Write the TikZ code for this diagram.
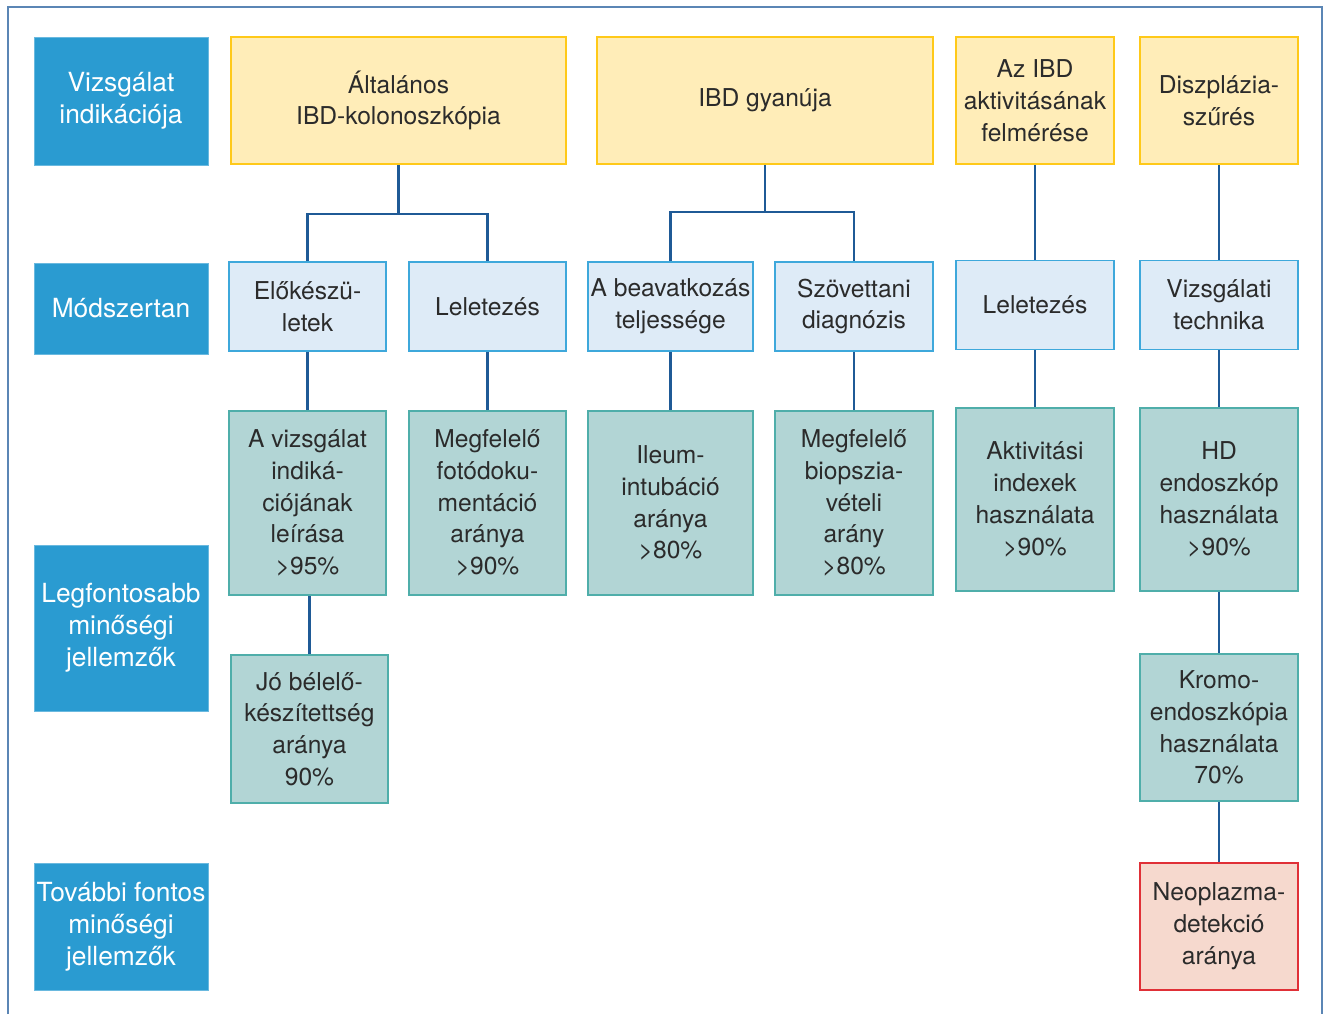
\documentclass[tikz,border=0pt]{standalone}
\usepackage{fontspec}
\setmainfont{TeX Gyre Heros}
\usepackage{tikz}
\usetikzlibrary{positioning,calc}
\definecolor{headblue}{HTML}{2A9BD1}
\definecolor{yelfill}{HTML}{FFEDB8}
\definecolor{yelline}{HTML}{FFC919}
\definecolor{ltfill}{HTML}{DEEBF7}
\definecolor{ltline}{HTML}{3EA8DB}
\definecolor{tealfill}{HTML}{B2D5D5}
\definecolor{tealline}{HTML}{4FAEAA}
\definecolor{redfill}{HTML}{F6D9CE}
\definecolor{redline}{HTML}{E03037}
\definecolor{linkblue}{HTML}{1F5A96}
\definecolor{framecol}{HTML}{5B86B5}
\definecolor{txt}{HTML}{2B2B2B}
\tikzset{
  box/.style={rectangle, align=center, inner sep=0pt, line width=1.1pt, text=txt,
    font=\fontsize{14}{18.1}\selectfont},
  rowhead/.style={box, fill=headblue, draw=headblue!70!white, line width=0.5pt, text=white,
    minimum width=3.48cm, font=\fontsize{15}{18.1}\selectfont},
  indic/.style={box, fill=yelfill, draw=yelline, minimum height=2.54cm},
  method/.style={box, fill=ltfill, draw=ltline, minimum height=1.78cm},
  measure/.style={box, fill=tealfill, draw=tealline, minimum width=3.14cm},
  extra/.style={box, fill=redfill, draw=redline, minimum width=3.16cm},
  link/.style={draw=linkblue, line width=1.6pt}
}
\begin{document}
\begin{tikzpicture}[x=0.02cm, y=-0.02cm]
   \useasboundingbox (0,0) rectangle (1324,1014);
   % outer frame, open at the bottom
   \draw[framecol, line width=0.9pt] (8,1014) -- (8,7) -- (1322,7) -- (1322,1014);

   % row headings
   \node (h1) [rowhead, minimum height=2.56cm] at (121,101) {Vizsgálat\\indikációja};
   \node (h2) [rowhead, minimum height=1.82cm] at (121,308.5) {Módszertan};
   \node (h3) [rowhead, minimum height=3.32cm] at (121,628) {Legfontosabb\\minőségi\\jellemzők};
   \node (h4) [rowhead, minimum height=2.54cm] at (121,926.5) {További fontos\\minőségi\\jellemzők};

   % indications
   \node (gen)  [indic, minimum width=6.70cm] at (398.5,100.5) {Általános\\IBD-kolonoszkópia};
   \node (susp) [indic, minimum width=6.72cm] at (765,100.5) {IBD gyanúja};
   \node (act)  [indic, minimum width=3.16cm] at (1035,100.5) {Az IBD\\aktivitásának\\felmérése};
   \node (dysp) [indic, minimum width=3.16cm] at (1219,100.5) {Diszplázia-\\szűrés};

   % methodology
   \node (prep)  [method, minimum width=3.14cm] at (307.5,306.5) {Előkészü-\\letek};
   \node (rep1)  [method, minimum width=3.14cm] at (487.5,306.5) {Leletezés};
   \node (compl) [method, minimum width=3.30cm] at (670.5,306.5) {A beavatkozás\\teljessége};
   \node (hist)  [method, minimum width=3.16cm] at (854,306.5) {Szövettani\\diagnózis};
   \node (rep2)  [method, minimum width=3.16cm] at (1035,305) {Leletezés};
   \node (tech)  [method, minimum width=3.16cm] at (1219,305) {Vizsgálati\\technika};

   % key quality measures
   \node (desc)  [measure, minimum height=3.68cm] at (307.5,503) {A vizsgálat\\indiká-\\ciójának\\leírása\\>95\%};
   \node (photo) [measure, minimum height=3.68cm] at (487.5,503) {Megfelelő\\fotódoku-\\mentáció\\aránya\\>90\%};
   \node (ileum) [measure, minimum height=3.68cm, minimum width=3.30cm] at (670.5,503) {Ileum-\\intubáció\\aránya\\>80\%};
   \node (biop)  [measure, minimum height=3.68cm, minimum width=3.16cm] at (854,503) {Megfelelő\\biopszia-\\vételi\\arány\\>80\%};
   \node (index) [measure, minimum height=3.66cm, minimum width=3.16cm] at (1035,499.5) {Aktivitási\\indexek\\használata\\>90\%};
   \node (hd)    [measure, minimum height=3.66cm, minimum width=3.16cm] at (1219,499.5) {HD\\endoszkóp\\használata\\>90\%};
   \node (bowel) [measure, minimum height=2.96cm] at (309.5,729) {Jó bélelő-\\készítettség\\aránya\\90\%};
   \node (chromo)[measure, minimum height=2.94cm, minimum width=3.16cm] at (1219,727.5) {Kromo-\\endoszkópia\\használata\\70\%};

   % further measures
   \node (neo) [extra, minimum height=2.54cm] at (1219,926.5) {Neoplazma-\\detekció\\aránya};

   % connectors
   \coordinate (b1) at (398.5,214);
   \coordinate (b2) at (765,212);
   \draw[link] (gen.south) -- (b1);
   \draw[link] (prep.north) |- (b1) -| (rep1.north);
   \draw[link] (susp.south) -- (b2);
   \draw[link] (compl.north) |- (b2) -| (hist.north);
   \draw[link] (act) -- (rep2);
   \draw[link] (dysp) -- (tech);
   \draw[link] (prep) -- (desc);
   \draw[link] (rep1) -- (photo);
   \draw[link] (compl) -- (ileum);
   \draw[link] (hist) -- (biop);
   \draw[link] (rep2) -- (index);
   \draw[link] (tech) -- (hd);
   \draw[link] (bowel.north) -- (bowel.north |- desc.south);
   \draw[link] (hd) -- (chromo);
   \draw[link] (chromo) -- (neo);
\end{tikzpicture}
\end{document}
